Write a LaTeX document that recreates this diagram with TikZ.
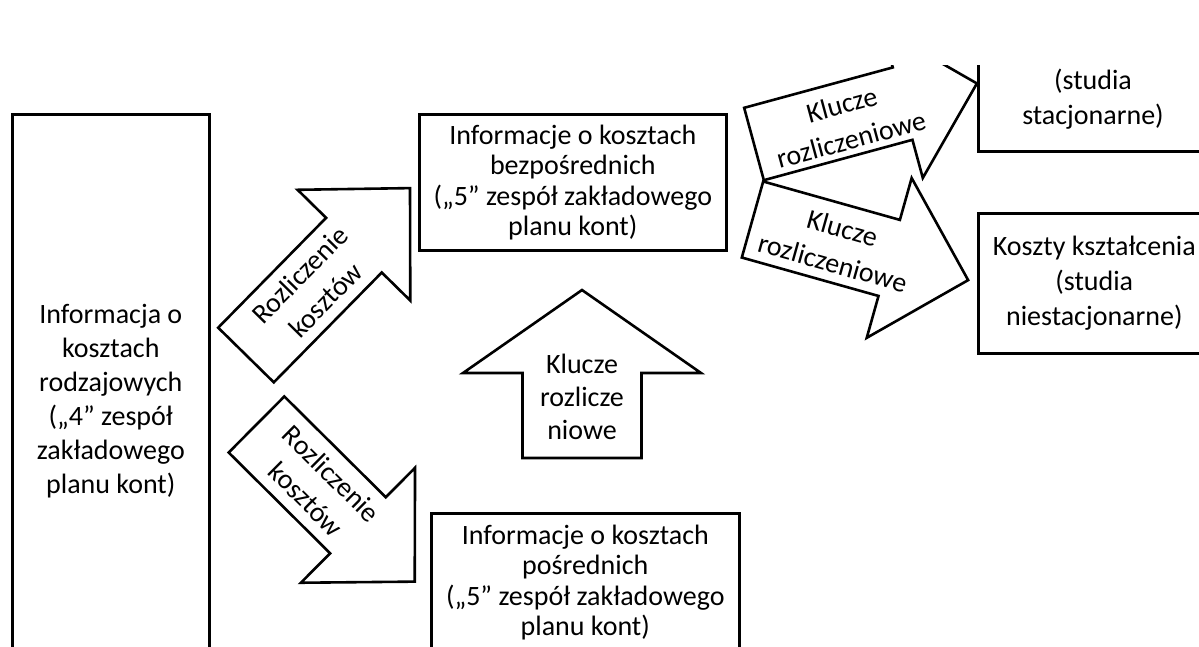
\documentclass[tikz,border=0pt]{standalone}
\usepackage{fontspec}
\setmainfont{Carlito}
\usetikzlibrary{calc}

% block arrow: #1 tail centre, #2 angle, #3 length, #4 shaft half-width,
% #5 head length, #6 head half-width
\newcommand{\blkarrow}[6]{%
  \draw[outline, shift={(#1)}, rotate=#2]
    (0,#4) -- ({#3-#5},#4) -- ({#3-#5},#6) -- (#3,0)
    -- ({#3-#5},-#6) -- ({#3-#5},-#4) -- (0,-#4) -- cycle;}

\begin{document}
\begin{tikzpicture}[x=1pt,y=1pt,
  outline/.style={draw=black, line width=2.6pt, line join=miter, fill=white},
  boxtext/.style={align=center, inner sep=0pt, font=\fontsize{28}{34}\selectfont},
  tighttext/.style={align=center, inner sep=0pt, font=\fontsize{28}{30.5}\selectfont},
  arrowtext/.style={align=center, inner sep=0pt, font=\fontsize{28}{36}\selectfont},
  infobox/.style={outline, rectangle, align=center, inner sep=0pt},
]
\useasboundingbox (0,0) rectangle (1199,-646);
\begin{scope}
\clip (0,-65) rectangle (1199,-660);

% cost-type source
\node[infobox, boxtext, minimum width=197, minimum height=573, anchor=north west]
  (rodz) at (11,-113)
  {Informacja o\\kosztach\\rodzajowych\\(„4” zespół\\zakładowego\\planu kont)};

% direct and indirect cost registers
\node[infobox, tighttext, minimum width=307, minimum height=136, anchor=north west]
  (bezp) at (418,-113)
  {Informacje o kosztach\\bezpośrednich\\(„5” zespół zakładowego\\planu kont)};
\node[infobox, tighttext, minimum width=308, minimum height=138, anchor=north west]
  (posr) at (430,-512)
  {Informacje o kosztach\\pośrednich\\(„5” zespół zakładowego\\planu kont)};

% education costs
\node[infobox, minimum width=232, minimum height=138, anchor=north west]
  (stac) at (977,-12) {};
\node[boxtext, font=\fontsize{28}{35}\selectfont] (stactxt) at (1093,-99.5)
  {(studia\\stacjonarne)};
\node[infobox, boxtext, font=\fontsize{28}{35}\selectfont,
  minimum width=232, minimum height=140, anchor=north west]
  (niest) at (977,-212)
  {Koszty kształcenia\\(studia\\niestacjonarne)};

% settlement arrows
\blkarrow{246,-355}{45.5}{234}{39}{80}{79}
\node[arrowtext, rotate=45.5] (ra) at ($(246,-355)+(45.5:95)$) {Rozliczenie\\kosztów};

\blkarrow{256.5,-424.5}{-44.8}{223}{39.5}{80}{81}
\node[arrowtext, rotate=-44.8] (rb) at ($(256.5,-424.5)+(-44.8:88)$) {Rozliczenie\\kosztów};

\blkarrow{582,-458}{90}{168}{59.5}{83}{119}
\node[boxtext, font=\fontsize{28}{33}\selectfont] (km) at (582,-396.5)
  {Klucze\\rozlicze\\niowe};

\blkarrow{754,-144}{15.2}{231}{37.5}{77}{77}
\node[arrowtext, rotate=15.2] (ku) at ($(754,-144)+(15.2:95)+(-74.8:3)$)
  {Klucze\\rozliczeniowe};

\blkarrow{752.5,-219.5}{-15.7}{224}{39.5}{82}{83}
\node[arrowtext, rotate=-15.7] (kl) at ($(752.5,-219.5)+(-15.7:89)+(-105.7:2)$)
  {Klucze\\rozliczeniowe};
\end{scope}
\end{tikzpicture}
\end{document}
